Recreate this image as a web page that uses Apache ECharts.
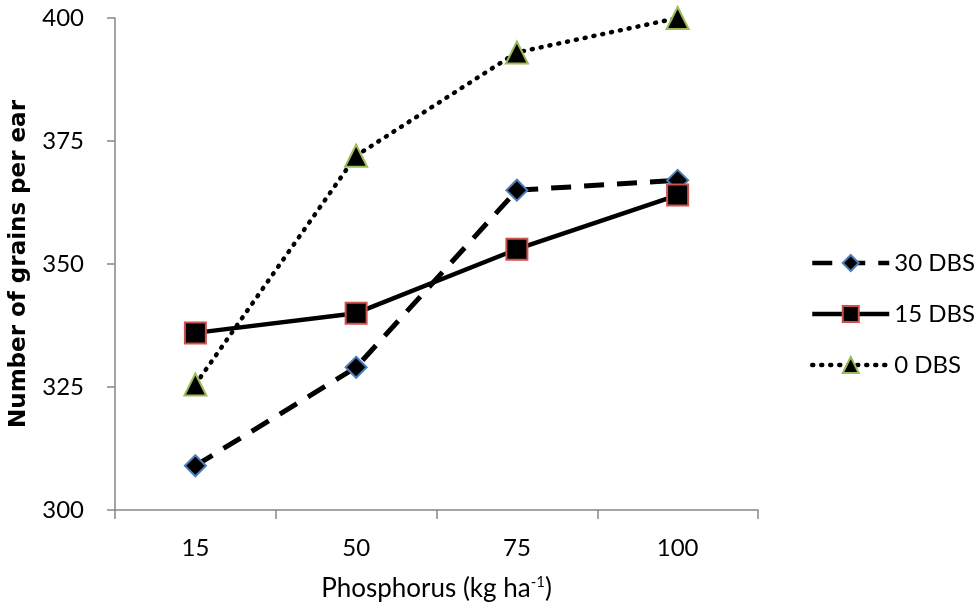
<!DOCTYPE html>
<html lang="en">

<head>
    <meta charset="UTF-8">
    <title>Grains per ear</title>
    <script src="https://cdn.jsdelivr.net/npm/echarts@6/dist/echarts.min.js"></script>
    <style>
        html, body { margin: 0; padding: 0; background: #fff; }
        #chart { width: 975px; height: 610px; }
    </style>
</head>

<body>
    <div id="chart"></div>
    <script>
        // data
        let phosphorus = ['15', '50', '75', '100'];
        let dbs30 = [309, 329, 365, 367];
        let dbs15 = [336, 340, 353, 364];
        let dbs0 = [325.5, 372, 393, 400];

        let font = 'Lato, "Open Sans", sans-serif';
        let my_echarts = echarts.init(document.getElementById('chart'));

        let options = {
            backgroundColor: '#fff',
            animation: false,
            grid: { left: 112, right: 217, top: 18, bottom: 100 },
            legend: {
                orient: 'vertical',
                left: 805,
                top: 246,
                itemWidth: 77,
                itemHeight: 20,
                itemGap: 27,
                lineStyle: { width: 4.5 },
                textStyle: { color: '#000', fontSize: 24, fontFamily: font },
                data: ['30 DBS', '15 DBS', '0 DBS']
            },
            xAxis: {
                type: 'category',
                data: phosphorus,
                boundaryGap: true,
                name: '{a|Phosphorus (kg ha}{s|-1}{a|)}',
                nameLocation: 'middle',
                nameGap: 65,
                nameTextStyle: {
                    rich: {
                        a: { fontSize: 26, fontFamily: font, color: '#000' },
                        s: { fontSize: 15, fontFamily: font, color: '#000', verticalAlign: 'top', padding: [0, 0, 12, 0] }
                    }
                },
                axisLine: { lineStyle: { color: '#868686', width: 1.5 } },
                axisTick: { show: true, inside: false, length: 9, alignWithLabel: false, lineStyle: { color: '#868686', width: 1.5 } },
                axisLabel: { color: '#000', fontSize: 24, fontFamily: font, margin: 26 },
                splitLine: { show: false }
            },
            yAxis: {
                type: 'value',
                min: 300,
                max: 400,
                interval: 25,
                name: 'Number of grains per ear',
                nameLocation: 'middle',
                nameGap: 84,
                nameTextStyle: { color: '#000', fontSize: 23, fontWeight: 'bold', fontFamily: '"DejaVu Sans", sans-serif' },
                axisLine: { show: true, lineStyle: { color: '#868686', width: 1.5 } },
                axisTick: { show: true, inside: false, length: 8, lineStyle: { color: '#868686', width: 1.5 } },
                axisLabel: { color: '#000', fontSize: 24, fontFamily: font, margin: 31 },
                splitLine: { show: false }
            },
            series: [
                {
                    name: '30 DBS',
                    type: 'line',
                    data: dbs30,
                    symbol: 'diamond',
                    symbolSize: 21,
                    lineStyle: { color: '#000', width: 5, type: [20, 13] },
                    itemStyle: { color: '#000', borderColor: '#4a7ebb', borderWidth: 2 },
                    z: 3
                },
                {
                    name: '15 DBS',
                    type: 'line',
                    data: dbs15,
                    symbol: 'rect',
                    symbolSize: 21,
                    lineStyle: { color: '#000', width: 4.5, type: 'solid' },
                    itemStyle: { color: '#000', borderColor: '#d0504d', borderWidth: 2 },
                    z: 4
                },
                {
                    name: '0 DBS',
                    type: 'line',
                    data: dbs0,
                    symbol: 'triangle',
                    symbolSize: 22,
                    lineStyle: { color: '#000', width: 4.5, type: [1, 8], cap: 'round' },
                    itemStyle: { color: '#000', borderColor: '#9bbb59', borderWidth: 2 },
                    z: 2
                }
            ]
        };
        my_echarts.setOption(options);
    </script>
</body>

</html>
